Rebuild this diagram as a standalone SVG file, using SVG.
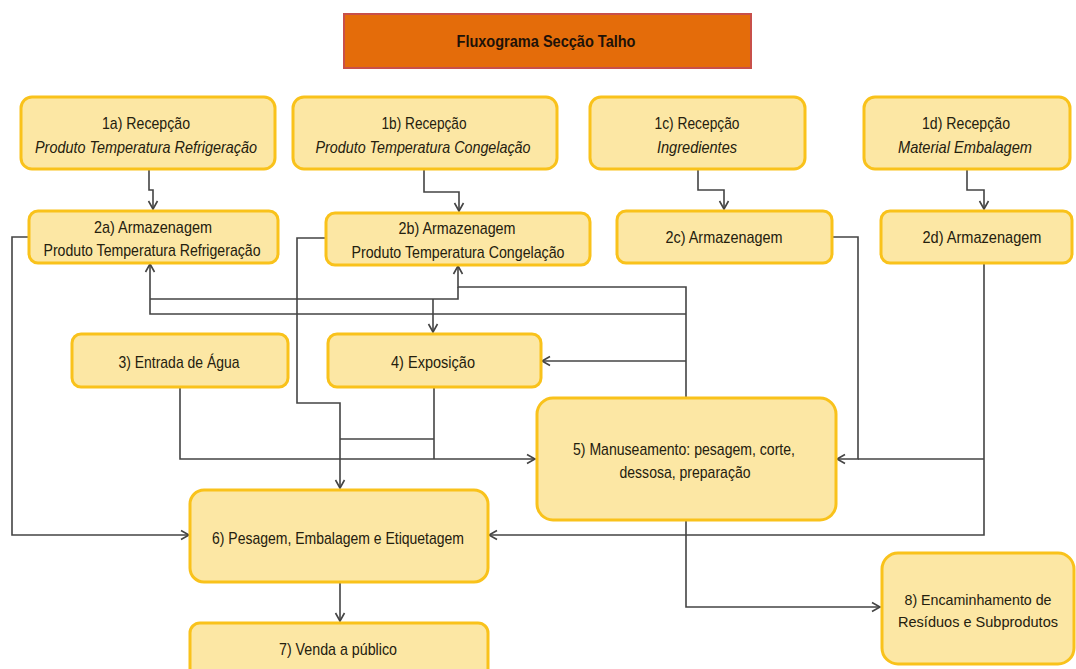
<svg xmlns="http://www.w3.org/2000/svg" width="1076" height="669" viewBox="0 0 1076 669">
  <style>
    .box { fill: #FCE7A4; stroke: #F9C21B; stroke-width: 3; }
    .lbl { font-family: "Liberation Sans Narrow", "Liberation Sans", Arial, sans-serif; font-size: 17px; fill: #24200E; text-anchor: middle; }
    .sm { font-size: 15px; }
    .it { font-style: italic; }
    .title { font-family: "Liberation Sans Narrow", "Liberation Sans", Arial, sans-serif; font-size: 16px; font-weight: bold; fill: #1E1208; text-anchor: middle; }
    .conn { fill: none; stroke: #444444; stroke-width: 1.6; }
  </style>
  <defs>
    <marker id="arrow" markerUnits="userSpaceOnUse" markerWidth="12" markerHeight="12" refX="10" refY="6" orient="auto">
      <path d="M2,1.5 L10,6 L2,10.5" fill="none" stroke="#444444" stroke-width="1.6"/>
    </marker>
  </defs>
  <rect width="1076" height="669" fill="#FFFFFF"/>

  <!-- title banner -->
  <g id="title">
    <rect x="344" y="14" width="407" height="54" fill="#E46C0A" stroke="#C8504A" stroke-width="2"/>
    <text class="title" x="546" y="47" textLength="179" lengthAdjust="spacingAndGlyphs">Fluxograma  Secção Talho</text>
  </g>

  <!-- connectors -->
  <g id="connectors">
    <path class="conn" d="M149,169 V190 H153 V209" marker-end="url(#arrow)"/>
    <path class="conn" d="M424,169 V192 H459 V211" marker-end="url(#arrow)"/>
    <path class="conn" d="M698,169 V190 H724 V209" marker-end="url(#arrow)"/>
    <path class="conn" d="M967,169 V190 H984 V209" marker-end="url(#arrow)"/>
    <path class="conn" d="M28,237 H12 V535 H189" marker-end="url(#arrow)"/>
    <path class="conn" d="M325,238 H297 V403 H340 V488" marker-end="url(#arrow)"/>
    <path class="conn" d="M180,387 V459 H535" marker-end="url(#arrow)"/>
    <path class="conn" d="M434,387 V459"/>
    <path class="conn" d="M434,439 H340"/>
    <path class="conn" d="M686,398 V287 H458 V266" marker-end="url(#arrow)"/>
    <path class="conn" d="M686,314 H150 V264" marker-end="url(#arrow)"/>
    <path class="conn" d="M150,299 H458 V287"/>
    <path class="conn" d="M433,299 V332" marker-end="url(#arrow)"/>
    <path class="conn" d="M686,361 H542" marker-end="url(#arrow)"/>
    <path class="conn" d="M832,237 H858 V459 H837" marker-end="url(#arrow)"/>
    <path class="conn" d="M984,263 V535 H489" marker-end="url(#arrow)"/>
    <path class="conn" d="M984,459 H858"/>
    <path class="conn" d="M686,520 V607 H880" marker-end="url(#arrow)"/>
    <path class="conn" d="M340,582 V621" marker-end="url(#arrow)"/>
  </g>

  <g id="n1a">
    <rect class="box" x="21" y="97" width="254" height="72" rx="11"/>
    <text class="lbl" x="146" y="129" textLength="88" lengthAdjust="spacingAndGlyphs">1a) Recepção</text>
    <text class="lbl it" x="146" y="153" textLength="222" lengthAdjust="spacingAndGlyphs">Produto Temperatura Refrigeração</text>
  </g>
  <g id="n1b">
    <rect class="box" x="293" y="97" width="264" height="72" rx="11"/>
    <text class="lbl" x="424" y="129" textLength="85" lengthAdjust="spacingAndGlyphs">1b) Recepção</text>
    <text class="lbl it" x="423" y="153" textLength="215" lengthAdjust="spacingAndGlyphs">Produto Temperatura Congelação</text>
  </g>
  <g id="n1c">
    <rect class="box" x="590" y="97" width="215" height="72" rx="11"/>
    <text class="lbl" x="697" y="129" textLength="85" lengthAdjust="spacingAndGlyphs">1c) Recepção</text>
    <text class="lbl it" x="697" y="153" textLength="80" lengthAdjust="spacingAndGlyphs">Ingredientes</text>
  </g>
  <g id="n1d">
    <rect class="box" x="864" y="97" width="206" height="72" rx="11"/>
    <text class="lbl" x="966" y="129" textLength="88" lengthAdjust="spacingAndGlyphs">1d) Recepção</text>
    <text class="lbl it" x="965" y="153" textLength="134" lengthAdjust="spacingAndGlyphs">Material Embalagem</text>
  </g>
  <g id="n2a">
    <rect class="box" x="29" y="211" width="249" height="52" rx="9"/>
    <text class="lbl" x="153" y="233" textLength="118" lengthAdjust="spacingAndGlyphs">2a) Armazenagem</text>
    <text class="lbl" x="152" y="256" textLength="217" lengthAdjust="spacingAndGlyphs">Produto Temperatura Refrigeração</text>
  </g>
  <g id="n2b">
    <rect class="box" x="326" y="213" width="264" height="52" rx="9"/>
    <text class="lbl" x="457" y="234" textLength="117" lengthAdjust="spacingAndGlyphs">2b) Armazenagem</text>
    <text class="lbl" x="458" y="258" textLength="213" lengthAdjust="spacingAndGlyphs">Produto Temperatura Congelação</text>
  </g>
  <g id="n2c">
    <rect class="box" x="617" y="211" width="215" height="52" rx="9"/>
    <text class="lbl" x="724" y="243" textLength="117" lengthAdjust="spacingAndGlyphs">2c) Armazenagem</text>
  </g>
  <g id="n2d">
    <rect class="box" x="881" y="211" width="191" height="52" rx="9"/>
    <text class="lbl" x="982" y="243" textLength="119" lengthAdjust="spacingAndGlyphs">2d) Armazenagem</text>
  </g>
  <g id="n3">
    <rect class="box" x="72" y="334" width="216" height="53" rx="9"/>
    <text class="lbl" x="179" y="368" textLength="121" lengthAdjust="spacingAndGlyphs">3) Entrada de Água</text>
  </g>
  <g id="n4">
    <rect class="box" x="328" y="334" width="213" height="53" rx="9"/>
    <text class="lbl" x="433" y="368" textLength="84" lengthAdjust="spacingAndGlyphs">4) Exposição</text>
  </g>
  <g id="n5">
    <rect class="box" x="537" y="398" width="299" height="122" rx="16"/>
    <text class="lbl" x="684" y="455" textLength="222" lengthAdjust="spacingAndGlyphs">5) Manuseamento: pesagem, corte,</text>
    <text class="lbl" x="685" y="478" textLength="131" lengthAdjust="spacingAndGlyphs">dessosa, preparação</text>
  </g>
  <g id="n6">
    <rect class="box" x="190" y="490" width="298" height="92" rx="14"/>
    <text class="lbl" x="338" y="544" textLength="252" lengthAdjust="spacingAndGlyphs">6) Pesagem, Embalagem e Etiquetagem</text>
  </g>
  <g id="n7">
    <rect class="box" x="190" y="623" width="298" height="60" rx="10"/>
    <text class="lbl" x="338" y="655" textLength="118" lengthAdjust="spacingAndGlyphs">7) Venda a público</text>
  </g>
  <g id="n8">
    <rect class="box" x="882" y="553" width="192" height="111" rx="16"/>
    <text class="lbl sm" x="978" y="605" textLength="147" lengthAdjust="spacingAndGlyphs">8) Encaminhamento de</text>
    <text class="lbl sm" x="978" y="627" textLength="160" lengthAdjust="spacingAndGlyphs">Resíduos e Subprodutos</text>
  </g>
</svg>
